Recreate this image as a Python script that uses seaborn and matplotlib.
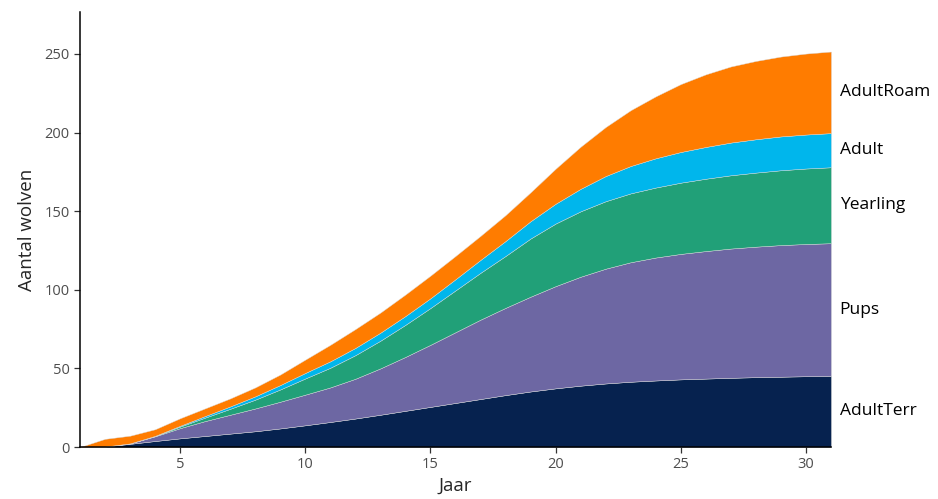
import matplotlib
matplotlib.use('Agg')
import matplotlib.pyplot as plt
import numpy as np
import pandas as pd
import seaborn as sns

sns.set_theme(style='ticks')
plt.rcParams['font.family'] = ['Open Sans', 'DejaVu Sans']

# Wolf population per life stage
jaar = list(range(1, 32))
adult_terr = [0, 0.3, 2, 3.8, 5.5, 7, 8.5, 10, 11.8, 13.8,
              15.9, 18.1, 20.5, 23, 25.5, 28, 30.5, 33, 35.3, 37.3,
              39, 40.4, 41.5, 42.3, 43, 43.5, 44, 44.4, 44.7, 45, 45.2]
pups = [0, 0, 0.3, 3, 6.5, 9.5, 12, 14.5, 17, 19.5,
        22, 25.3, 29.5, 34.3, 39.5, 45, 50.5, 55.5, 60.3, 65,
        69.3, 73, 76, 78.2, 79.8, 81.1, 82.2, 83, 83.7, 84.1, 84.4]
yearling = [0, 0, 0, 0.2, 1, 2.2, 3.8, 5.6, 7.8, 10.3,
            12.5, 15, 17.6, 20.4, 23.4, 26.6, 29.8, 33, 37, 39.8,
            41.6, 42.9, 43.8, 44.5, 45.3, 46, 46.6, 47.1, 47.6, 48, 48.3]
adult = [0, 0, 0, 0.1, 0.5, 1, 1.5, 2.1, 2.8, 3.5,
         4.1, 4.6, 5.1, 5.6, 6.2, 7.1, 8.2, 9.5, 11, 12.6,
         14.3, 16, 17.4, 18.6, 19.5, 20.2, 20.8, 21.2, 21.5, 21.6, 21.7]
adult_roam = [0, 4.9, 4.9, 4.2, 4.8, 4.9, 5.1, 5.7, 6.7, 8.5,
              10.5, 12, 12.8, 13.7, 14.4, 14.8, 15.3, 16.5, 18.4, 22.3,
              26.8, 31.2, 35.5, 39.4, 43.2, 46.2, 48.4, 49.8, 50.8, 51.5, 51.9]

stages = ['AdultTerr', 'Pups', 'Yearling', 'Adult', 'AdultRoam']
colors = ['#06224f', '#6d67a3', '#21a078', '#00b6ec', '#ff7c00']

df = pd.DataFrame({'Jaar': jaar, 'AdultTerr': adult_terr, 'Pups': pups,
                   'Yearling': yearling, 'Adult': adult, 'AdultRoam': adult_roam})

fig = plt.figure(figsize=(9.38, 4.99), dpi=100)
ax = fig.add_axes([0.0853, 0.1042, 0.8006, 0.8718])

ax.stackplot(df['Jaar'], df[stages].T.values, colors=colors,
             edgecolor='#d9d9d9', linewidth=0.3)

# labels at the right edge, centred in each band
last = df[stages].iloc[-1].values
cum = np.cumsum(last)
mids = cum - last / 2
for name, y in zip(stages, mids):
    ax.text(df['Jaar'].iloc[-1] + 0.35, y, name, va='center', ha='left',
            fontsize=12.5, color='black', clip_on=False)

ax.set_xlim(1, 31)
ax.set_ylim(0, cum[-1] * 1.1)
ax.set_xticks([5, 10, 15, 20, 25, 30])
ax.set_yticks([0, 50, 100, 150, 200, 250])
ax.tick_params(axis='both', colors='#333333', labelcolor='#4d4d4d',
               labelsize=10.5, length=4, width=0.9)
ax.set_xlabel('Jaar', fontsize=13.5, labelpad=3)
ax.set_ylabel('Aantal wolven', fontsize=13.5, labelpad=6)

sns.despine(ax=ax)
for side in ['left', 'bottom']:
    ax.spines[side].set_color('black')
    ax.spines[side].set_linewidth(1.1)

fig.savefig('out.png', dpi=100, facecolor='white')
